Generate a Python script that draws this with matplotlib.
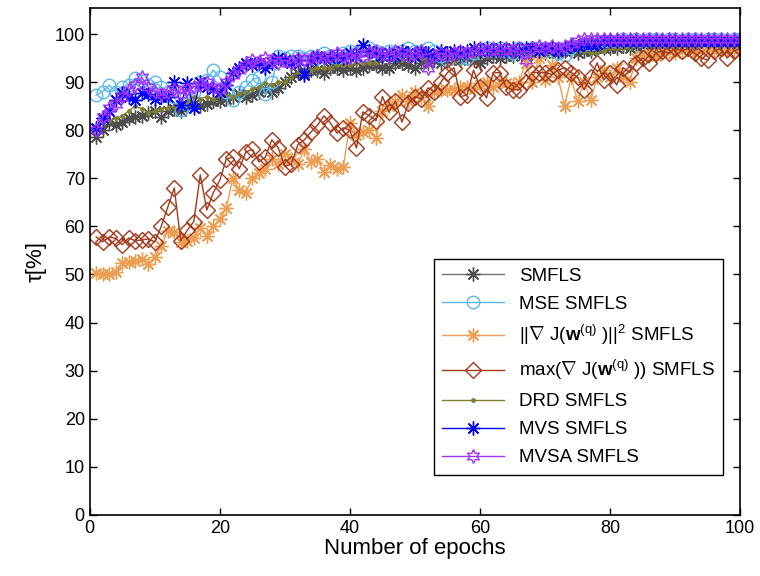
import numpy as np
import matplotlib
matplotlib.use("Agg")
import matplotlib.pyplot as plt

plt.rcParams['font.family'] = ['Liberation Sans', 'DejaVu Sans']
plt.rcParams['mathtext.fontset'] = 'custom'
plt.rcParams['mathtext.rm'] = 'Liberation Sans'
plt.rcParams['mathtext.it'] = 'Liberation Sans:italic'
plt.rcParams['mathtext.bf'] = 'Liberation Sans:bold'

epochs = list(range(1, 101))

smfls = [78.5, 80, 81.7, 81, 81.7, 82.5, 82.7, 83, 83.5, 84,
         82.7, 84, 84.5, 84, 85, 85.5, 85, 85.5, 86, 86,
         86.5, 87, 87.5, 87, 87.3, 88, 88.5, 88, 88.8, 90,
         91, 92, 92, 92.5, 92.5, 92, 93, 93, 92.5, 93,
         92.5, 93, 93.5, 93.5, 93, 93, 94, 94, 93.5, 93,
         94, 94, 94.5, 94, 94.5, 95, 94.5, 95, 94.5, 94,
         95, 95.5, 95, 95.5, 95.5, 96, 95.5, 96, 96, 96,
         96.5, 96, 96.5, 96.5, 96, 96.5, 96.5, 97, 97, 97,
         97, 97.5, 97, 97.5, 97.5, 97, 97.5, 97.5, 97, 97.5,
         97.5, 97.5, 97, 97.5, 97.5, 97.5, 97.5, 97, 97.5, 97.5]

mse = [87.3, 88, 89.4, 88, 89, 89.5, 90.8, 90.2, 89.5, 90,
       89, 88, 87, 84.2, 85.5, 88, 90, 90.5, 92.5, 91,
       88, 86.3, 88, 89, 90.5, 91, 87.5, 90, 95.5, 95,
       95.5, 95.5, 95, 95.5, 95, 96, 95.5, 95, 96, 96.5,
       96, 95.5, 97, 96.5, 96, 96.5, 96, 96.5, 97, 96.5,
       96, 97, 96.5, 95.5, 94.6, 95.5, 95, 95, 96, 96.5,
       97, 96.5, 97, 96.5, 96, 97, 96.5, 97, 97, 96.5,
       97, 96, 95.6, 97, 97.5, 98, 98, 98.5, 98.5, 98.5,
       98.5, 99, 98.5, 99, 98.5, 99, 99, 98.5, 99, 99,
       98.5, 99, 99, 98.5, 99, 99, 99, 98.5, 99, 99]

grad = [50.3, 50, 50, 50.5, 52.4, 52.6, 52.8, 53.2, 52.2, 53.6,
        56, 59, 58.8, 56.8, 57, 57.6, 59.7, 58, 60, 61.5,
        63.8, 70, 67.5, 67, 70, 71, 72, 74, 73, 75,
        74, 73, 76, 73.4, 74, 71.3, 72.8, 72, 72.4, 81.5,
        79, 79.6, 80, 78.4, 84, 85, 86, 87.3, 86, 88,
        87, 85, 88, 88.4, 88.4, 88.4, 89, 89, 88.5, 89.5,
        90, 89, 90, 89.8, 89.5, 90, 94, 90, 95, 90.4,
        93.5, 91, 85, 91, 86, 90, 86.3, 91, 92.5, 91,
        93, 91, 90, 95, 95.5, 96, 95.5, 96, 96.5, 96,
        96.5, 97, 96, 96.5, 97, 96.5, 97, 96.5, 97, 96]

gmax = [57.8, 56.8, 57.8, 57.5, 56.2, 57.6, 57, 57.2, 57.4, 56.8,
        60, 64, 68, 57, 59.2, 61, 70.7, 63.4, 67, 69.6,
        74, 74.4, 72, 75.5, 76, 73.4, 74.4, 78, 76.3, 72.4,
        73, 77, 78, 79.6, 81, 83, 81.5, 79.4, 80.5, 80,
        76.3, 83.8, 83, 82, 87, 83.8, 86, 81.7, 85.6, 87,
        86.5, 88.8, 88, 90, 92, 93, 87, 87.3, 92.5, 89,
        86.7, 91.9, 92, 89, 88.4, 88.4, 90, 92, 92, 92,
        91.6, 92.5, 93, 92, 91, 88.4, 91, 94, 90.4, 92,
        89.4, 93, 92, 94, 95, 94, 96, 96.5, 96, 97,
        96.5, 97, 96, 95, 94.6, 96.5, 97, 95, 96.5, 97]

drd = [80.5, 81.5, 82, 82.5, 83, 84, 85, 84.5, 83.6, 84,
       84.5, 84.6, 85, 85.5, 86, 87, 86.5, 87, 86.5, 87,
       87.3, 87, 87.5, 88, 88.5, 89, 89.8, 89.5, 90, 90,
       91, 92, 92.5, 92.5, 93, 93, 93, 93.5, 93.5, 93.5,
       94, 94, 94, 94, 94.5, 94.5, 94.5, 94.5, 95, 95,
       95, 95, 95, 95.5, 95, 95.5, 95.5, 95.5, 95.5, 95.5,
       95.5, 95.5, 96, 96, 96, 96, 96, 96, 96, 96,
       96, 96.5, 96.5, 96.5, 96.5, 96.5, 96, 96, 96.5, 97,
       97, 97, 97, 97.5, 97.5, 97.5, 97.5, 97.5, 97.5, 97.5,
       97.5, 97.5, 97.5, 97.5, 97.5, 97.5, 97.5, 97.5, 97.5, 97.5]

mvs = [80.5, 82.5, 84, 86.3, 87.7, 87, 86.3, 87.7, 87.5, 86.5,
       87, 87, 90, 85.2, 89.8, 84.6, 90, 89, 88.5, 88,
       89.5, 92, 93, 94, 93.5, 94, 93, 94, 95, 94.5,
       94, 94.5, 91.5, 94.5, 95.5, 95, 95, 95.5, 95, 96,
       95.5, 97.7, 96.5, 96, 95.5, 96, 95.5, 96.5, 96, 95.5,
       96.5, 96, 95.5, 96.5, 96, 96.5, 96, 96.5, 97, 96.5,
       97, 96.5, 97, 96.5, 97, 96.5, 97, 97, 96.5, 97,
       97, 96.5, 97, 97.5, 97.5, 98, 98, 98, 98.5, 98.5,
       98.5, 98.5, 98.5, 98.5, 98.5, 98.5, 98.5, 98.5, 98.5, 98.5,
       98.5, 98.5, 98.5, 98.5, 98.5, 98.5, 98.5, 98.5, 98.5, 98.5]

mvsa = [80, 82.7, 84.6, 85.5, 87, 88.4, 89.5, 91, 89, 88,
        87.5, 88, 88.5, 87.5, 88.5, 89, 89.5, 90, 89, 88.5,
        90, 91.5, 92.5, 93.5, 94.6, 94, 95, 94.5, 94, 94.5,
        94, 95, 94.5, 95, 95.5, 95, 95.5, 96, 95.5, 95,
        96, 95.5, 96, 96.5, 96, 95.5, 96.5, 96, 95.5, 96,
        96.5, 93, 95.5, 96, 95.5, 96, 96.5, 96, 96.5, 97,
        96.5, 97, 96.5, 97, 96.5, 97, 94.6, 97, 97.5, 97,
        97.5, 97, 97.5, 98, 98.5, 99, 99, 99, 99, 99,
        99, 99, 99, 99, 99, 99, 99, 99, 99, 99,
        99, 99, 99, 99, 99, 99, 99, 99, 99, 99]

labels = ['SMFLS', 'MSE SMFLS',
          r'$||\nabla$ J($\mathbf{w}^{\mathrm{(q)}}$ )$||^2$ SMFLS',
          r'max($\nabla$ J($\mathbf{w}^{\mathrm{(q)}}$ )) SMFLS',
          'DRD SMFLS', 'MVS SMFLS', 'MVSA SMFLS']

fig = plt.figure(figsize=(7.6, 5.76), dpi=100)
ax = fig.add_axes([0.118, 0.106, 0.856, 0.880])

ast = (8, 2, 0)
ax.plot(epochs, smfls, color=(0.45, 0.45, 0.45), marker=ast, ms=10, lw=1,
        mec=(0.3, 0.3, 0.3), label=labels[0])
ax.plot(epochs, mse, color=(0.35, 0.72, 0.93), marker='o', ms=9, mfc='none', lw=1,
        label=labels[1])
ax.plot(epochs, grad, color=(0.93, 0.62, 0.32), marker=ast, ms=10, lw=1,
        label=labels[2])
ax.plot(epochs, gmax, color=(0.64, 0.22, 0.1), marker='D', ms=8, mfc='none', lw=1,
        label=labels[3])
ax.plot(epochs, drd, color=(0.5, 0.5, 0.2), marker='.', ms=5, lw=1,
        label=labels[4])
ax.plot(epochs, mvs, color=(0.0, 0.0, 1.0), marker=ast, ms=10, lw=1,
        label=labels[5])
ax.plot(epochs, mvsa, color=(0.62, 0.2, 1.0), marker=(6, 1, 0), ms=10, mfc='none', lw=1,
        label=labels[6])

ax.set_xlim(0, 100)
ax.set_ylim(0, 105.4)
ax.set_xticks(np.arange(0, 101, 20))
ax.set_yticks(np.arange(0, 101, 10))
ax.tick_params(direction='in', top=True, right=True, labelsize=13, length=5, width=1)
for s in ax.spines.values():
    s.set_linewidth(1.2)
ax.set_xlabel('Number of epochs', fontsize=16, labelpad=1)
ax.set_ylabel('τ[%]', fontsize=16, labelpad=6)

leg = ax.legend(loc='lower right', bbox_to_anchor=(0.974, 0.079), borderaxespad=0,
                fontsize=13.5, fancybox=False, framealpha=1, edgecolor='black',
                handlelength=3.3, borderpad=0.45, labelspacing=0.58)
leg.get_frame().set_linewidth(1)

fig.savefig('out.png', dpi=100)
